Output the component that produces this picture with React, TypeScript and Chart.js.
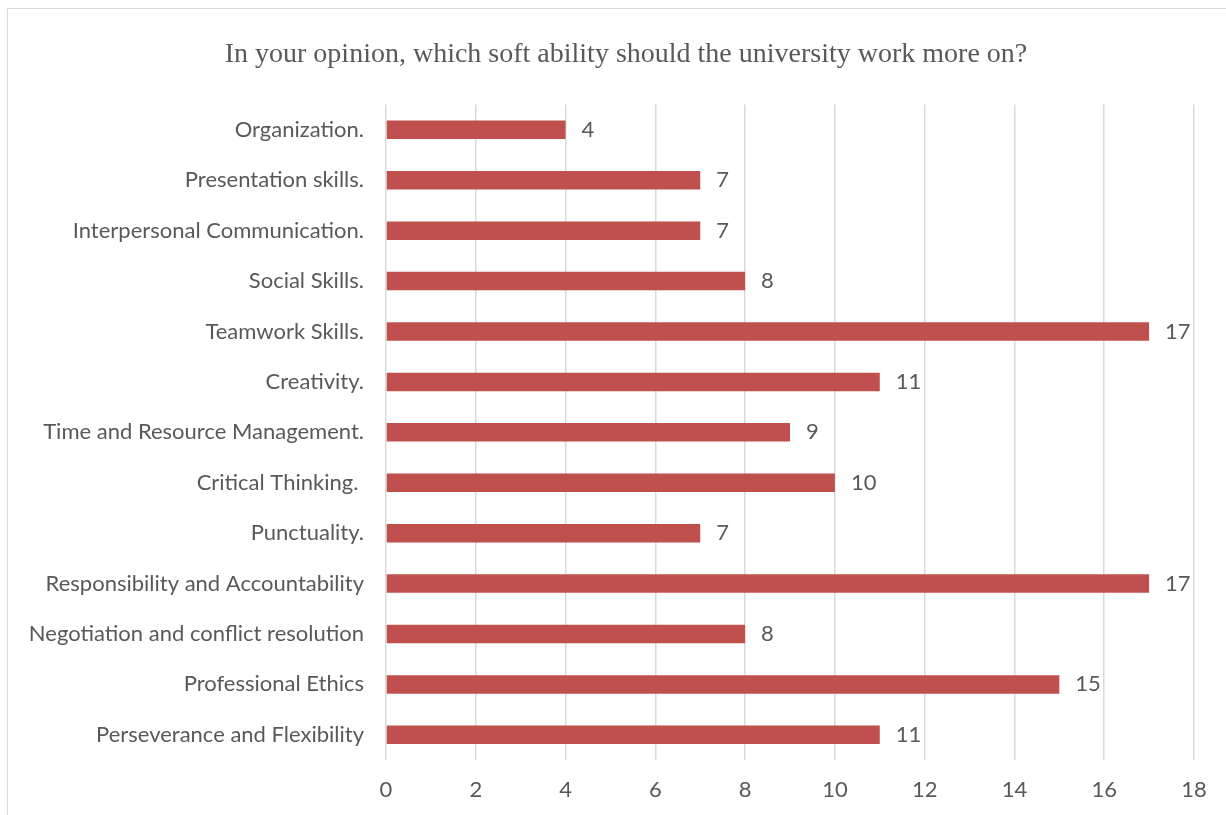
import React, { useEffect, useRef } from "react";
import { Chart, registerables } from "chart.js";

Chart.register(...registerables);

const TITLE = "In your opinion, which soft ability should the university work more on?";

const categories = [
  "Organization.",
  "Presentation skills.",
  "Interpersonal Communication.",
  "Social Skills.",
  "Teamwork Skills.",
  "Creativity.",
  "Time and Resource Management.",
  "Critical Thinking. ",
  "Punctuality.",
  "Responsibility and Accountability",
  "Negotiation and conflict resolution",
  "Professional Ethics",
  "Perseverance and Flexibility",
];

const values = [4, 7, 7, 8, 17, 11, 9, 10, 7, 17, 8, 15, 11];

const xMin = 0;
const xMax = 18;
const xStep = 2;

const LABEL_FONT = "Lato, 'Open Sans', sans-serif";
const TITLE_FONT = "'Liberation Serif', 'Times New Roman', serif";
const TEXT_COLOR = "#595959";

const valueLabels = {
  id: "valueLabels",
  afterDatasetsDraw(chart: any) {
    const ctx = chart.ctx;
    const meta = chart.getDatasetMeta(0);
    ctx.save();
    ctx.font = `22px ${LABEL_FONT}`;
    ctx.fillStyle = TEXT_COLOR;
    ctx.textAlign = "left";
    ctx.textBaseline = "middle";
    meta.data.forEach((bar: any, i: number) => {
      ctx.fillText(String(values[i]), bar.x + 16, bar.y);
    });
    ctx.restore();
  },
};

const chartTitle = {
  id: "chartTitle",
  afterDraw(chart: any) {
    const ctx = chart.ctx;
    ctx.save();
    ctx.font = `28px ${TITLE_FONT}`;
    ctx.fillStyle = TEXT_COLOR;
    ctx.textAlign = "center";
    ctx.textBaseline = "middle";
    ctx.fillText(TITLE, 626, 55);
    ctx.restore();
  },
};

export default function App() {
  const ref = useRef<HTMLCanvasElement | null>(null);

  useEffect(() => {
    if (!ref.current) return;
    const chart = new Chart(ref.current, {
      type: "bar",
      data: {
        labels: categories,
        datasets: [
          {
            data: values,
            backgroundColor: "#C0504D",
            borderWidth: 0,
            categoryPercentage: 1,
            barPercentage: 0.367,
          },
        ],
      },
      options: {
        indexAxis: "y",
        responsive: false,
        animation: false,
        layout: { padding: { left: 30, right: 32, top: 104.6, bottom: 0 } },
        plugins: {
          legend: { display: false },
          tooltip: { enabled: false },
          title: { display: false },
        },
        scales: {
          x: {
            min: xMin,
            max: xMax,
            ticks: {
              stepSize: xStep,
              color: TEXT_COLOR,
              font: { family: LABEL_FONT, size: 22 },
              padding: 17,
            },
            grid: { color: "#d9d9d9", lineWidth: 1.5, drawTicks: false },
            border: { display: false },
            afterFit: (s: any) => {
              s.height = 55;
            },
          },
          y: {
            ticks: {
              color: TEXT_COLOR,
              font: { family: LABEL_FONT, size: 22 },
              padding: 22,
            },
            grid: { display: false, drawTicks: false },
            border: { display: false },
            afterFit: (s: any) => {
              s.width = 356;
            },
          },
        },
      },
      plugins: [valueLabels, chartTitle],
    });
    return () => chart.destroy();
  }, []);

  return (
    <div style={{ position: "fixed", left: 0, top: 0, width: 1226, height: 815, background: "#fff", overflow: "hidden" }}>
      <canvas ref={ref} width={1226} height={815} style={{ position: "absolute", left: 0, top: 0 }} />
      <div
        style={{
          position: "absolute",
          left: 7,
          top: 8,
          width: 1240,
          height: 840,
          border: "1.5px solid #d9d9d9",
          pointerEvents: "none",
        }}
      />
    </div>
  );
}
